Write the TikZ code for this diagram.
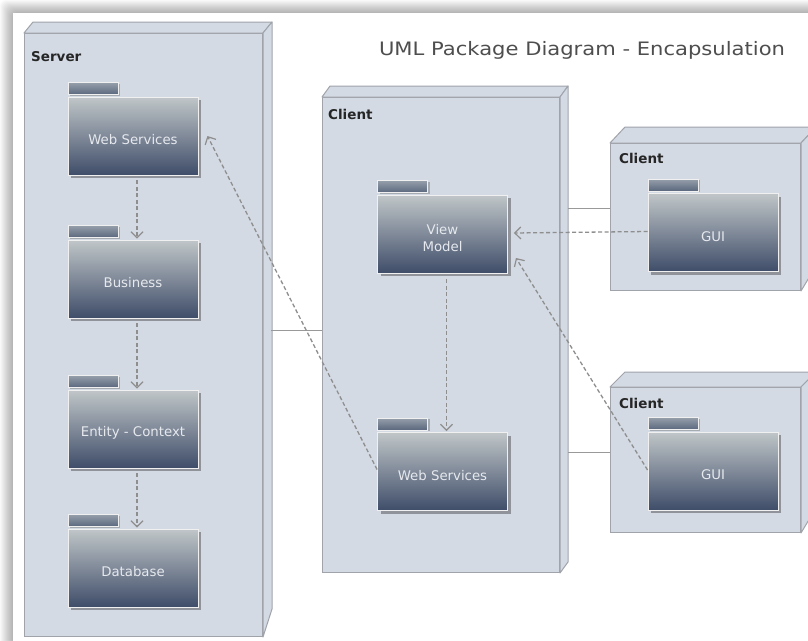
\documentclass[tikz,border=0pt]{standalone}
\usepackage{fontspec}
\setmainfont{DejaVu Sans}
\newfontfamily\titlefont[FakeStretch=1.14]{DejaVu Sans}
\usetikzlibrary{arrows.meta,shadows,calc}

\definecolor{nodefill}{HTML}{D3DAE4}
\definecolor{nodeline}{HTML}{A0A4AA}
\definecolor{pkgtop}{HTML}{C0C6C8}
\definecolor{pkgbot}{HTML}{3F4D69}
\definecolor{tabtop}{HTML}{959EAA}
\definecolor{tabbot}{HTML}{5A677D}
\definecolor{wire}{HTML}{8E8E8E}
\definecolor{pkgtext}{HTML}{E6E9EE}
\definecolor{titlegray}{HTML}{4E4E4E}

\tikzset{
  cube/.style={draw=nodeline, fill=nodefill, line width=1pt, inner sep=0pt, anchor=north west},
  cubeface/.style={draw=nodeline, fill=nodefill, line width=1pt, line join=round},
  cubelabel/.style={anchor=west, font=\fontsize{13.5}{16}\selectfont\bfseries, text=black!85, inner sep=0pt},
  pkgbody/.style={draw=white!88!gray, line width=0.9pt, top color=pkgtop, bottom color=pkgbot,
    minimum width=130pt, minimum height=78pt, inner sep=0pt,
    drop shadow={shadow xshift=3pt, shadow yshift=-3pt, opacity=0.45, fill=black!75}},
  pkgtab/.style={draw=white!88!gray, line width=0.9pt, top color=tabtop, bottom color=tabbot,
    minimum width=50pt, minimum height=12pt, inner sep=0pt, anchor=south west,
    drop shadow={shadow xshift=2pt, shadow yshift=-1pt, opacity=0.3, fill=black!75}},
  pkglabel/.style={text=pkgtext, font=\fontsize{13.3}{17}\selectfont, align=center, yshift=-4pt},
  dep/.style={draw=wire, line width=1.3pt, dash pattern=on 4pt off 2.5pt,
    -{Straight Barb[length=6pt,width=12pt,line width=1.2pt]}},
  link/.style={draw=wire!90!white, line width=1pt},
}

% top and right faces of a 3D node: name, depth x, depth y (top), depth y (bottom edge)
\newcommand{\boxfaces}[4]{%
  \path[cubeface] (#1.north west) -- ++(#2,-#3) -- ($(#1.north east)+(#2,-#3)$)
    -- (#1.north east) -- cycle;
  \path[cubeface] (#1.north east) -- ++(#2,-#3) -- ($(#1.south east)+(#2,-#4)$)
    -- (#1.south east) -- cycle;
}

\begin{document}
\begin{tikzpicture}[x=1pt,y=-1pt]
\useasboundingbox (0,0) rectangle (808,640);
\clip (0,0) rectangle (808,640);

% page with a soft shadow along its top and left edges
\fill[white] (0,0) rectangle (808,640);
\foreach \i in {1,...,13}
  \fill[black,opacity=0.022,rounded corners=6pt] (13-\i,13-\i) rectangle (830,660);
\fill[white] (13,13) rectangle (830,660);

% title
\node[font=\titlefont\fontsize{18.5}{20}\selectfont, text=titlegray] (title) at (582,50)
  {UML Package Diagram - Encapsulation};

% ---------- Server ----------
\node[cube, minimum width=238pt, minimum height=603pt] (srv) at (24,33) {};
\boxfaces{srv}{9}{11}{28}
\node[cubelabel] (srvlbl) at ([xshift=7pt,yshift=-24pt]srv.north west) {Server};

\node[pkgbody, label={[pkglabel]center:Web Services}] (sWS) at (133,136) {};
\node[pkgtab] (sWSt) at ([yshift=1.5pt]sWS.north west) {};
\node[pkgbody, label={[pkglabel]center:Business}] (sBus) at (133,279) {};
\node[pkgtab] (sBust) at ([yshift=1.5pt]sBus.north west) {};
\node[pkgbody, label={[pkglabel]center:Entity - Context}] (sEnt) at (133,429) {};
\node[pkgtab] (sEntt) at ([yshift=1.5pt]sEnt.north west) {};
\node[pkgbody, label={[pkglabel]center:Database}] (sDB) at (133,568) {};
\node[pkgtab] (sDBt) at ([yshift=1.5pt]sDB.north west) {};

% ---------- Client (middle) ----------
\node[cube, minimum width=237pt, minimum height=475pt] (cli) at (322,97) {};
\boxfaces{cli}{8}{11}{11}
\node[cubelabel] (clilbl) at ([xshift=6pt,yshift=-17pt]cli.north west) {Client};

\node[pkgbody, label={[pkglabel]center:View\\Model}] (cVM) at (442.5,234) {};
\node[pkgtab] (cVMt) at ([yshift=1.5pt]cVM.north west) {};
\node[pkgbody, label={[pkglabel]center:Web Services}] (cWS) at (442.5,471.5) {};
\node[pkgtab] (cWSt) at ([yshift=1.5pt]cWS.north west) {};

% ---------- Client (top right) ----------
\node[cube, minimum width=190pt, minimum height=147pt] (tcl) at (610,143) {};
\boxfaces{tcl}{15}{16}{25}
\node[cubelabel] (tcllbl) at ([xshift=9pt,yshift=-15pt]tcl.north west) {Client};
\node[pkgbody, label={[pkglabel]center:GUI}] (gTop) at (713,232.5) {};
\node[pkgtab] (gTopt) at ([yshift=1.5pt]gTop.north west) {};

% ---------- Client (bottom right) ----------
\node[cube, minimum width=190pt, minimum height=145pt] (bcl) at (610,387) {};
\boxfaces{bcl}{15}{15}{25}
\node[cubelabel] (bcllbl) at ([xshift=9pt,yshift=-16pt]bcl.north west) {Client};
\node[pkgbody, label={[pkglabel]center:GUI}] (gBot) at (713,471) {};
\node[pkgtab] (gBott) at ([yshift=1.5pt]gBot.north west) {};

% ---------- solid links between nodes ----------
\draw[link] ([xshift=8pt,yshift=4.5pt]srv.east) -- ([yshift=4.5pt]cli.west);
\draw[link] ($(cli.east |- tcl.west)+(8,-8.5)$) -- ([yshift=8.5pt]tcl.west);
\draw[link] ($(cli.east |- bcl.west)+(8,-7.5)$) -- ([yshift=7.5pt]bcl.west);

% ---------- dependencies ----------
\draw[dep] ([xshift=4pt,yshift=-5pt]sWS.south) -- ([xshift=4pt,yshift=1pt]sBus.north);
\draw[dep] ([xshift=4pt,yshift=-5pt]sBus.south) -- ([xshift=4pt,yshift=1pt]sEnt.north);
\draw[dep] ([xshift=4pt,yshift=-5pt]sEnt.south) -- ([xshift=4pt,yshift=1pt]sDB.north);
\draw[dep] ([yshift=2pt]cWS.west) -- ([xshift=9pt]sWS.east);
\draw[dep] ([xshift=4pt,yshift=-6pt]cVM.south) -- ([xshift=4pt,yshift=1pt]cWS.north);
\draw[dep] ([yshift=1pt]gTop.west) -- ([xshift=6pt,yshift=1pt]cVM.east);
\draw[dep] ([yshift=1pt]gBot.west) -- ([xshift=8pt,yshift=-24pt]cVM.east);
\end{tikzpicture}
\end{document}
